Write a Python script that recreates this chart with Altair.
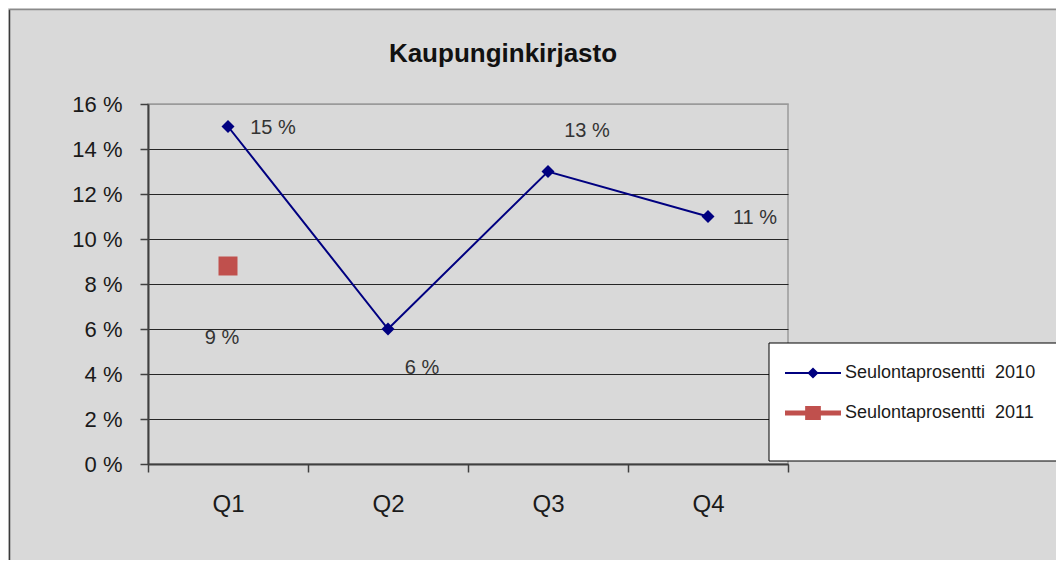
import altair as alt
import pandas as pd

# ---- data ----
quarters = ["Q1", "Q2", "Q3", "Q4"]
series_names = ["Seulontaprosentti\u00a0 2010", "Seulontaprosentti\u00a0 2011"]
values_2010 = [15, 6, 13, 11]
quarters_2011 = ["Q1"]
values_2011 = [8.8]
y_ticks = [0, 2, 4, 6, 8, 10, 12, 14, 16]
series_colors = ["#000080", "#c0504d"]

# ---- styling / placement (not data) ----
label_offsets_2010 = [(45, 1), (34, 39), (39, -41), (47, 1)]
label_offsets_2011 = [(-6, 72)]
legend_paths = [
    "M-1,-0.036H1V0.036H-1Z M0,-0.2L0.2,0L0,0.2L-0.2,0Z",
    "M-1,-0.09H1V0.09H-1Z M-0.28,-0.25H0.28V0.25H-0.28Z",
]
FONT = "Liberation Sans"

df2010 = pd.DataFrame({"quarter": quarters, "value": values_2010})
df2010["label"] = [f"{v:.0f} %" for v in values_2010]
df2011 = pd.DataFrame({"quarter": quarters_2011, "value": values_2011})
df2011["label"] = [f"{v:.0f} %" for v in values_2011]

x_enc = alt.X(
    "quarter:N",
    scale=alt.Scale(type="band", domain=quarters, paddingInner=0, paddingOuter=0),
    axis=alt.Axis(
        title=None, labelAngle=0, tickBand="extent", grid=False,
        labelFont=FONT, labelFontSize=24, labelColor="#1a1a1a", labelPadding=20,
        tickSize=8, tickColor="#404040", tickWidth=1.5,
        domainColor="#404040", domainWidth=2,
    ),
)
y_enc = alt.Y(
    "value:Q",
    scale=alt.Scale(domain=[0, 16], nice=False, zero=True),
    axis=alt.Axis(
        title=None, values=y_ticks, labelExpr="datum.value + ' %'",
        labelFont=FONT, labelFontSize=22, labelColor="#1a1a1a", labelPadding=18,
        tickSize=8, tickColor="#404040", tickWidth=1.5,
        domainColor="#404040", domainWidth=2,
        grid=True,
        gridColor={"condition": {"test": "datum.value >= 16", "value": "#9a9a9a"}, "value": "#262626"},
        gridWidth=1,
    ),
)

one = pd.DataFrame({"k": [0]})

# outer chart-area border (decorative)
border_left = alt.Chart(one).mark_rule(color="#3a3a3a", strokeWidth=1.5).encode(
    x=alt.value(-138.5), y=alt.value(-94.5), y2=alt.value(456)
)
border_top = alt.Chart(one).mark_rule(color="#8a8a8a", strokeWidth=1.5).encode(
    x=alt.value(-138.5), x2=alt.value(908), y=alt.value(-94.5)
)

# legend box background
legend_box = alt.Chart(one).mark_rect(fill="white", stroke="#000000", strokeWidth=1).encode(
    x=alt.value(621), x2=alt.value(914), y=alt.value(239), y2=alt.value(357)
)

line2010 = alt.Chart(df2010).mark_line(color=series_colors[0], strokeWidth=2).encode(x=x_enc, y=y_enc)
pts2010 = alt.Chart(df2010).mark_point(
    shape="diamond", filled=True, color=series_colors[0], size=170, opacity=1
).encode(x=x_enc, y=y_enc)
pts2011 = alt.Chart(df2011).mark_point(
    shape="square", filled=True, color=series_colors[1], size=361, opacity=1
).encode(x=x_enc, y=y_enc)

label_layers = []
for df, offsets in ((df2010, label_offsets_2010), (df2011, label_offsets_2011)):
    for i, (dx, dy) in enumerate(offsets):
        label_layers.append(
            alt.Chart(df.iloc[[i]]).mark_text(
                dx=dx, dy=dy, align="center", baseline="middle",
                font=FONT, fontSize=20, color="#333333",
            ).encode(x=x_enc, y=y_enc, text="label:N")
        )

legend_def = alt.Legend(
    title=None, orient="none", legendX=637, legendY=241, direction="vertical",
    labelFont=FONT, labelFontSize=18, labelColor="#1a1a1a", labelOffset=4, labelLimit=400,
    symbolSize=3136, symbolStrokeWidth=0, rowPadding=3, padding=0,
)
legend_layer = alt.Chart(pd.DataFrame({"series": series_names})).transform_filter(
    "false"
).mark_point(filled=True, opacity=1).encode(
    color=alt.Color("series:N", scale=alt.Scale(domain=series_names, range=series_colors), legend=legend_def),
    shape=alt.Shape("series:N", scale=alt.Scale(domain=series_names, range=legend_paths), legend=legend_def),
)

chart = alt.layer(
    border_left, border_top, legend_box, line2010, pts2010, pts2011, *label_layers, legend_layer
).properties(
    width=640,
    height=360,
    padding={"left": 140, "top": 96, "right": 268, "bottom": 96},
    autosize=alt.AutoSizeParams(type="none"),
    background="#d9d9d9",
    title=alt.TitleParams(
        "Kaupunginkirjasto", font=FONT, fontSize=26, fontWeight="bold", color="#111111",
        anchor="middle", dx=35, frame="group", baseline="bottom", offset=-84,
    ),
).configure_view(fill="#f2f2f2", stroke="#9a9a9a", strokeWidth=1.5)

chart.save("out.html", embed_options={"renderer": "svg", "actions": False})
